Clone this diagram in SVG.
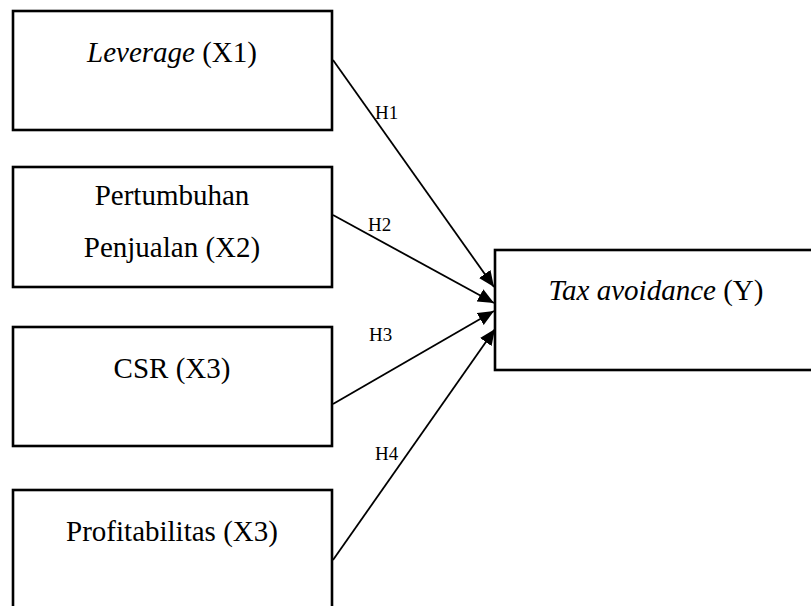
<svg xmlns="http://www.w3.org/2000/svg" width="811" height="606" viewBox="0 0 811 606">
<style>
.box{fill:#fff;stroke:#000;stroke-width:2.6}
.t{font-family:"Liberation Serif","Times New Roman",serif;font-size:29px;fill:#000;text-anchor:middle}
.h{font-family:"Liberation Serif","Times New Roman",serif;font-size:19px;fill:#000}
.c{stroke:#000;stroke-width:1.8;fill:none;marker-end:url(#ah)}
</style>
<defs>
<marker id="ah" viewBox="0 0 16 14" refX="16" refY="7" markerWidth="16" markerHeight="14" markerUnits="userSpaceOnUse" orient="auto">
<path d="M0,0 L16,7 L0,14 z" fill="#000"/>
</marker>
</defs>
<rect width="811" height="606" fill="#fff"/>
<g id="x1">
<rect class="box" x="13" y="11" width="319" height="119"/>
<text class="t" x="172" y="62"><tspan font-style="italic">Leverage</tspan> (X1)</text>
</g>
<g id="x2">
<rect class="box" x="13" y="167" width="319" height="120"/>
<text class="t" x="172" y="205">Pertumbuhan</text>
<text class="t" x="172" y="257">Penjualan (X2)</text>
</g>
<g id="x3">
<rect class="box" x="13" y="327" width="319" height="119"/>
<text class="t" x="172" y="378">CSR (X3)</text>
</g>
<g id="x4">
<rect class="box" x="13" y="490" width="319" height="125"/>
<text class="t" x="172" y="541">Profitabilitas (X3)</text>
</g>
<g id="y">
<rect class="box" x="495" y="250" width="325" height="120"/>
<text class="t" x="656" y="300"><tspan font-style="italic">Tax avoidance</tspan> (Y)</text>
</g>
<g id="connectors">
<line class="c" x1="333" y1="60" x2="494" y2="287"/>
<line class="c" x1="333" y1="215" x2="494" y2="303"/>
<line class="c" x1="333" y1="404" x2="494" y2="311"/>
<line class="c" x1="333" y1="560" x2="495" y2="329"/>
<text class="h" x="375" y="119">H1</text>
<text class="h" x="368" y="231">H2</text>
<text class="h" x="369" y="341">H3</text>
<text class="h" x="375" y="460">H4</text>
</g>
</svg>
